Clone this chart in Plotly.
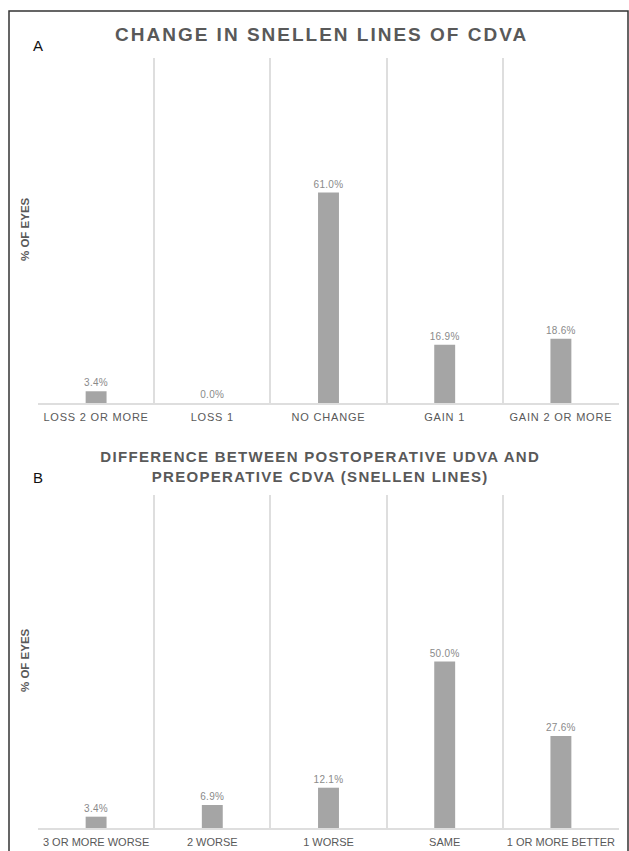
import plotly.graph_objects as go

# Panel A: change in Snellen lines of CDVA
cats_a = ["LOSS 2 OR MORE", "LOSS 1", "NO CHANGE", "GAIN 1", "GAIN 2 OR MORE"]
vals_a = [3.4, 0.0, 61.0, 16.9, 18.6]

# Panel B: postoperative UDVA vs preoperative CDVA
cats_b = ["3 OR MORE WORSE", "2 WORSE", "1 WORSE", "SAME", "1 OR MORE BETTER"]
vals_b = [3.4, 6.9, 12.1, 50.0, 27.6]

W, H = 629, 851
FONT = "Liberation Sans, Arial, sans-serif"
BAR = "#a5a5a5"
TXT = "#595959"
GRID = "#dedede"


def px_x(x):
    return x / W


def px_y(y):
    return 1 - y / H


fig = go.Figure()

for cats, vals, xa, ya in [(cats_a, vals_a, "x", "y"), (cats_b, vals_b, "x2", "y2")]:
    fig.add_trace(go.Bar(
        x=cats, y=vals, xaxis=xa, yaxis=ya,
        marker=dict(color=BAR, line=dict(width=0)),
        text=[f"{v:.1f}%" for v in vals], textposition="outside",
        textfont=dict(family=FONT, size=10, color="#8a8a8a"),
        constraintext="none", cliponaxis=False, width=0.18,
    ))

xdom = [px_x(38), px_x(619)]
xaxis_common = dict(
    type="category", tickson="boundaries", showgrid=True, gridcolor=GRID,
    gridwidth=1.5, ticks="", tickangle=0, automargin=False, ticklabelstandoff=3,
    showline=True, linecolor=GRID, linewidth=1.5,
    tickfont=dict(family=FONT, size=11, color=TXT), fixedrange=True,
    zeroline=False,
)
yaxis_common = dict(
    range=[0, 100], showgrid=False, showticklabels=False, zeroline=False,
    ticks="", showline=False, fixedrange=True, automargin=False,
)

fig.update_layout(
    width=W, height=H, margin=dict(l=0, r=0, t=0, b=0),
    paper_bgcolor="white", plot_bgcolor="white", showlegend=False,
    xaxis=dict(domain=xdom, anchor="y", **xaxis_common),
    yaxis=dict(domain=[px_y(403), px_y(58)], anchor="x", **yaxis_common),
    xaxis2=dict(domain=xdom, anchor="y2", **xaxis_common),
    yaxis2=dict(domain=[px_y(828), px_y(495)], anchor="x2", **yaxis_common),
)

annotations = [
    dict(text="<b>CHANGE IN SNELLEN LINES OF CDVA</b>", x=px_x(321), y=px_y(35),
         font=dict(family=FONT, size=19, color=TXT)),
    dict(text="<b>DIFFERENCE BETWEEN POSTOPERATIVE UDVA AND<br>PREOPERATIVE CDVA (SNELLEN LINES)</b>",
         x=px_x(320), y=px_y(466), font=dict(family=FONT, size=15, color=TXT)),
    dict(text="A", x=px_x(38), y=px_y(45), font=dict(family=FONT, size=15, color="#111111")),
    dict(text="B", x=px_x(38), y=px_y(477), font=dict(family=FONT, size=15, color="#111111")),
    dict(text="<b>% OF EYES</b>", x=px_x(25), y=px_y(229), textangle=-90,
         font=dict(family=FONT, size=11.5, color=TXT)),
    dict(text="<b>% OF EYES</b>", x=px_x(25), y=px_y(660), textangle=-90,
         font=dict(family=FONT, size=11.5, color=TXT)),
]
for a in annotations:
    a.update(xref="paper", yref="paper", showarrow=False, xanchor="center", yanchor="middle")
fig.update_layout(annotations=annotations)

# outer frame
fig.add_shape(type="rect", xref="paper", yref="paper",
              x0=px_x(9), x1=px_x(628), y0=-0.02, y1=px_y(11),
              line=dict(color="#333333", width=1.5), fillcolor="rgba(0,0,0,0)")

# widen the tracking of the caps labels
spacing_js = """
var gd = document.getElementsByClassName('plotly-graph-div')[0];
function track() {
  gd.querySelectorAll('.xtick text').forEach(function(t){ t.style.letterSpacing = '0.8px'; });
  gd.querySelectorAll('.bartext').forEach(function(t){ t.style.letterSpacing = '0.3px'; });
  gd.querySelectorAll('.annotation-text').forEach(function(t){
    var fs = parseFloat(t.style.fontSize);
    if (fs >= 18) { t.style.letterSpacing = '2px'; }
    else if (t.textContent.length > 20) { t.style.letterSpacing = '1.3px'; }
  });
}
track();
gd.on('plotly_afterplot', track);
"""

fig.write_html("out.html", post_script=spacing_js)
